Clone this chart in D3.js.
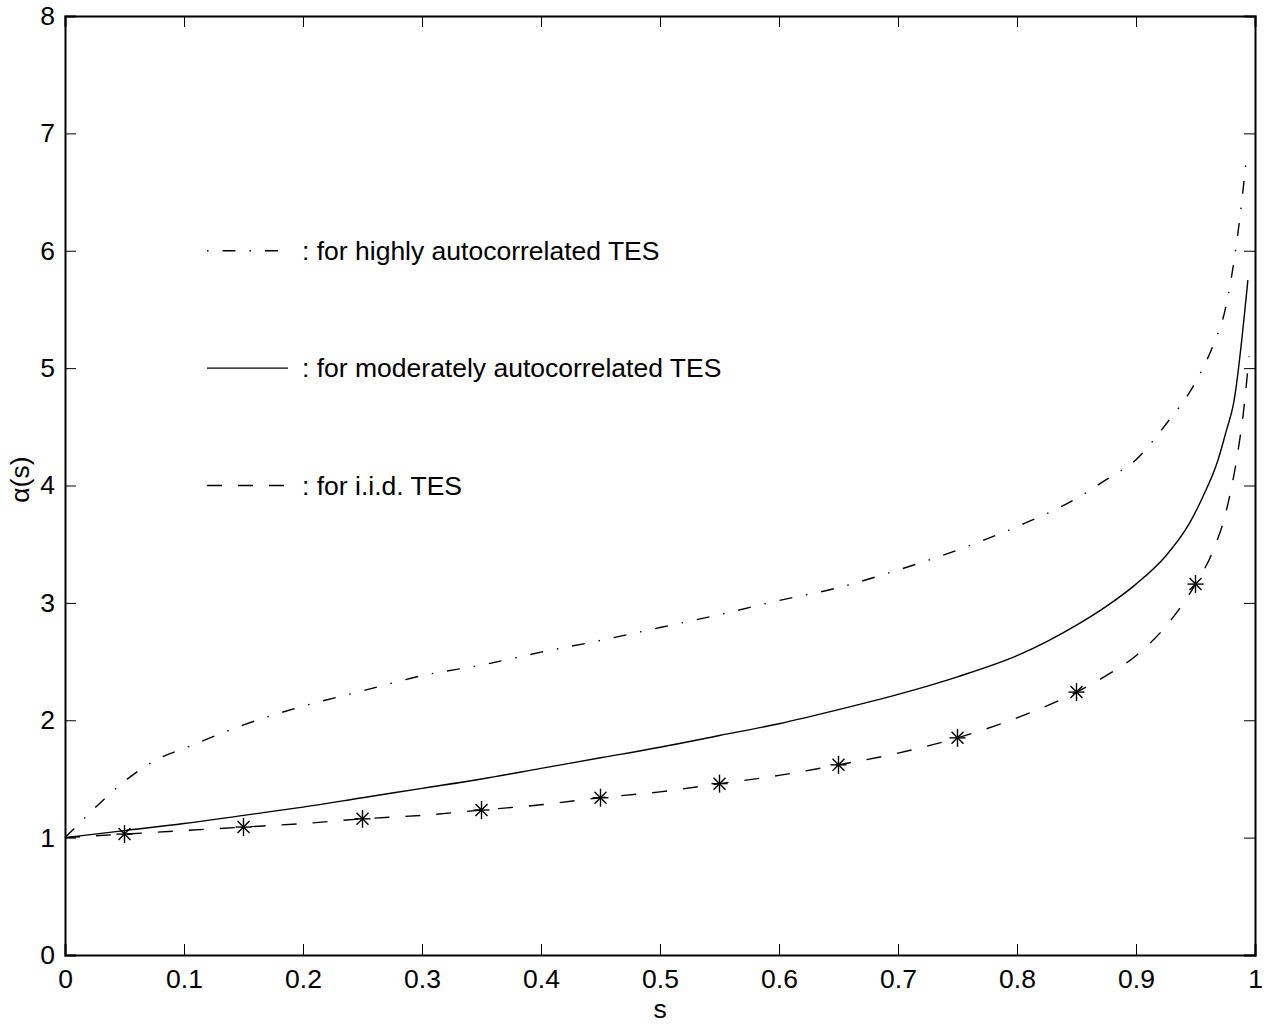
<!DOCTYPE html>
<html>
<head>
<meta charset="utf-8">
<script src="https://cdn.jsdelivr.net/npm/d3@7"></script>
<style>
  body { margin: 0; background: #fff; }
  svg { display: block; font-family: "Liberation Sans", Arial, sans-serif; }
</style>
</head>
<body>
<div class="chart"></div>
<script>
// values
var sHigh = [0, 0.01, 0.03, 0.05, 0.08, 0.1, 0.15, 0.2, 0.25, 0.3, 0.35, 0.4, 0.45, 0.5, 0.55, 0.6, 0.65, 0.7, 0.75, 0.8, 0.85, 0.875, 0.9, 0.925, 0.95, 0.965, 0.975, 0.985, 0.993];
var aHigh = [1.0, 1.1, 1.3, 1.48, 1.68, 1.76, 1.96, 2.12, 2.25, 2.38, 2.47, 2.58, 2.68, 2.79, 2.9, 3.02, 3.13, 3.28, 3.45, 3.65, 3.89, 4.05, 4.22, 4.52, 4.88, 5.2, 5.5, 6.1, 6.8];

var sMod = [0, 0.05, 0.1, 0.15, 0.2, 0.25, 0.3, 0.35, 0.4, 0.45, 0.5, 0.55, 0.6, 0.65, 0.7, 0.75, 0.8, 0.825, 0.85, 0.875, 0.9, 0.925, 0.945, 0.956, 0.969, 0.976, 0.982, 0.994];
var aMod = [1.0, 1.06, 1.12, 1.19, 1.26, 1.34, 1.42, 1.5, 1.59, 1.68, 1.77, 1.87, 1.97, 2.09, 2.22, 2.37, 2.55, 2.67, 2.81, 2.97, 3.16, 3.4, 3.68, 3.9, 4.22, 4.47, 4.7, 5.75];

var sIid = [0, 0.05, 0.1, 0.15, 0.2, 0.25, 0.3, 0.35, 0.4, 0.45, 0.5, 0.55, 0.6, 0.65, 0.7, 0.75, 0.8, 0.85, 0.875, 0.9, 0.925, 0.95, 0.965, 0.975, 0.985, 0.99, 0.995];
var aIid = [1.0, 1.03, 1.06, 1.09, 1.12, 1.16, 1.19, 1.235, 1.28, 1.34, 1.39, 1.46, 1.53, 1.62, 1.72, 1.85, 2.02, 2.24, 2.38, 2.55, 2.8, 3.16, 3.45, 3.75, 4.25, 4.6, 5.1];

// simulated points (stars)
var sStar = [0.05, 0.15, 0.25, 0.35, 0.45, 0.55, 0.65, 0.75, 0.85, 0.95];
var aStar = [1.03, 1.09, 1.16, 1.235, 1.34, 1.46, 1.62, 1.85, 2.24, 3.16];

var xTicks = [0, 0.1, 0.2, 0.3, 0.4, 0.5, 0.6, 0.7, 0.8, 0.9, 1];
var yTicks = [0, 1, 2, 3, 4, 5, 6, 7, 8];

var legendLabels = [": for highly autocorrelated TES", ": for moderately autocorrelated TES", ": for i.i.d. TES"];
var legendY = [6, 5, 4];

var width = 1277, height = 1025;
var mLeft = 65, mRight = 1255, mTop = 16, mBottom = 955;
var tickLen = 11, fontSize = "26.5px";

var svg = d3.select(".chart").append("svg")
  .attr("width", width)
  .attr("height", height);

var x = d3.scaleLinear().domain([0, 1]).range([mLeft, mRight]);
var y = d3.scaleLinear().domain([0, 8]).range([mBottom, mTop]);

var dashHigh = "13,14,1.5,14";
var dashIid = "15,16";

// axes, MATLAB style box with inward ticks
var fmt = d3.format("");
svg.append("g")
  .attr("transform", "translate(0," + mBottom + ")")
  .call(d3.axisBottom(x).tickValues(xTicks).tickSize(-tickLen).tickPadding(14).tickFormat(fmt));
svg.append("g")
  .attr("transform", "translate(0," + mTop + ")")
  .call(d3.axisTop(x).tickValues(xTicks).tickSize(-tickLen).tickFormat(""));
svg.append("g")
  .attr("transform", "translate(" + mLeft + ",0)")
  .call(d3.axisLeft(y).tickValues(yTicks).tickSize(-tickLen).tickPadding(10).tickFormat(fmt));
svg.append("g")
  .attr("transform", "translate(" + mRight + ",0)")
  .call(d3.axisRight(y).tickValues(yTicks).tickSize(-tickLen).tickFormat(""));

svg.selectAll(".domain").attr("stroke", "#000").attr("stroke-width", 2);
svg.selectAll(".tick line").attr("stroke", "#000").attr("stroke-width", 1);
svg.selectAll(".tick text")
  .attr("fill", "#000")
  .style("font-size", fontSize)
  .style("font-family", "'Liberation Sans', Arial, sans-serif");

// curves
var line = d3.line()
  .x(function (d) { return x(d[0]); })
  .y(function (d) { return y(d[1]); })
  .curve(d3.curveMonotoneX);

var series = [
  { s: sHigh, a: aHigh, dash: dashHigh },
  { s: sMod, a: aMod, dash: null },
  { s: sIid, a: aIid, dash: dashIid }
];

series.forEach(function (d) {
  svg.append("path")
    .datum(d3.zip(d.s, d.a))
    .attr("fill", "none")
    .attr("stroke", "#000")
    .attr("stroke-width", 1.4)
    .attr("stroke-dasharray", d.dash)
    .attr("d", line);
});

// asterisk markers
var star = svg.append("g").selectAll("g")
  .data(d3.zip(sStar, aStar))
  .enter().append("g")
  .attr("transform", function (d) { return "translate(" + x(d[0]) + "," + y(d[1]) + ")"; })
  .attr("stroke", "#000")
  .attr("stroke-width", 1.4);
star.append("line").attr("x1", -8).attr("x2", 8).attr("y1", 0).attr("y2", 0);
star.append("line").attr("x1", 0).attr("x2", 0).attr("y1", -9).attr("y2", 9);
star.append("line").attr("x1", -6).attr("x2", 6).attr("y1", -6).attr("y2", 6);
star.append("line").attr("x1", -6).attr("x2", 6).attr("y1", 6).attr("y2", -6);

// legend written inside the plot
var legend = svg.append("g").selectAll("g")
  .data(legendLabels)
  .enter().append("g")
  .attr("transform", function (d, i) { return "translate(0," + y(legendY[i]) + ")"; });

legend.append("line")
  .attr("x1", 207).attr("x2", 288)
  .attr("stroke", "#000")
  .attr("stroke-width", 1.4)
  .attr("stroke-dasharray", function (d, i) { return series[i].dash; })
  .attr("stroke-dashoffset", function (d, i) { return i == 0 ? 27 : 0; });

legend.append("text")
  .attr("x", 302)
  .attr("dy", "0.35em")
  .style("font-size", fontSize)
  .text(function (d) { return d; });

// axis labels
svg.append("text")
  .attr("x", x(0.5))
  .attr("y", 1018)
  .attr("text-anchor", "middle")
  .style("font-size", fontSize)
  .text("s");

svg.append("text")
  .attr("transform", "translate(29," + y(4.05) + ") rotate(-90)")
  .attr("text-anchor", "middle")
  .style("font-size", fontSize)
  .text("α(s)");
</script>
</body>
</html>
